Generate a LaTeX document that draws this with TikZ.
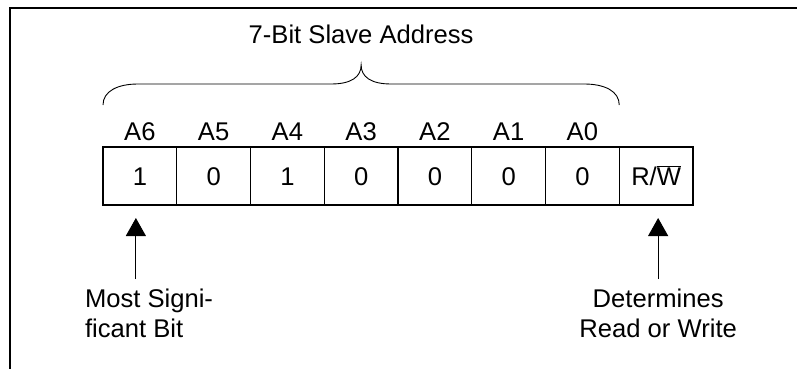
\documentclass[tikz,border=0pt]{standalone}
\usepackage{fontspec}
\setmainfont{Liberation Sans}
\usetikzlibrary{calc,positioning,arrows.meta}

\begin{document}
\begin{tikzpicture}[x=1bp, y=1bp,
    every node/.style={font=\fontsize{25.7}{30}\selectfont, inner sep=0pt, outer sep=0pt},
    bitcell/.style={draw, line width=1.2bp, minimum width=73.75bp, minimum height=58bp,
        text height=18bp, text depth=0bp},
    bitname/.style={text height=18bp, text depth=0bp},
    fleche/.style={-{Triangle[length=18bp,width=20bp]}, line width=1bp},
    accolade/.style={line width=0.9bp}]
        \useasboundingbox (0,0) rectangle (797,369);
        % Cadre : seulement le haut et la gauche
        \draw[line width=1.2bp] (797,361) -- (10,361) -- (10,0);

        % Les huit cases de l'adresse
        \node[bitcell] (a6) at (139.875,193) {1};
        \node[bitcell, right=0pt of a6] (a5) {0};
        \node[bitcell, right=0pt of a5] (a4) {1};
        \node[bitcell, right=0pt of a4] (a3) {0};
        \node[bitcell, right=0pt of a3] (a2) {0};
        \node[bitcell, right=0pt of a2] (a1) {0};
        \node[bitcell, right=0pt of a1] (a0) {0};
        \node[bitcell, right=0pt of a0] (rw) {R/$\overline{\mbox{W}}$};

        % Noms des bits au-dessus des cases
        \node[bitname, above=7bp of a6] (n6) {A6};
        \node[bitname, above=7bp of a5] (n5) {A5};
        \node[bitname, above=7bp of a4] (n4) {A4};
        \node[bitname, above=7bp of a3] (n3) {A3};
        \node[bitname, above=7bp of a2] (n2) {A2};
        \node[bitname, above=7bp of a1] (n1) {A1};
        \node[bitname, above=7bp of a0] (n0) {A0};

        % Accolade et titre
        \coordinate (bg) at ([yshift=42bp]a6.north west);
        \coordinate (bd) at ([yshift=42bp]a0.north east);
        \coordinate (bm) at ($(bg)!0.5!(bd)+(0,40)$);
        \draw[accolade] (bg) .. controls +(0,14) and +(-20,0) .. ++(35,21)
            -- ($(bm)+(-30,-19)$) .. controls +(20,0) and +(0,-12) .. (bm)
            .. controls +(0,-12) and +(-20,0) .. ($(bm)+(30,-19)$)
            -- ($(bd)+(-35,21)$) .. controls +(20,0) and +(0,14) .. (bd);
        \node[above=21bp of bm] (titre) {7-Bit Slave Address};

        % Fleches et legendes sous les cases
        \coordinate (msb) at ([xshift=-4bp,yshift=-13bp]a6.south);
        \coordinate (rwb) at ([xshift=2bp,yshift=-13bp]rw.south);
        \node[anchor=north west, align=left] (txtmsb) at (85,80) {Most Signi-\\ficant Bit};
        \node[anchor=north, align=center] (txtrw) at ([yshift=-71bp]rwb) {Determines\\Read or Write};
        \draw[fleche] ([yshift=10bp]txtmsb.north -| msb) -- (msb);
        \draw[fleche] ([yshift=10bp]txtrw.north) -- (rwb);
\end{tikzpicture}
\end{document}
